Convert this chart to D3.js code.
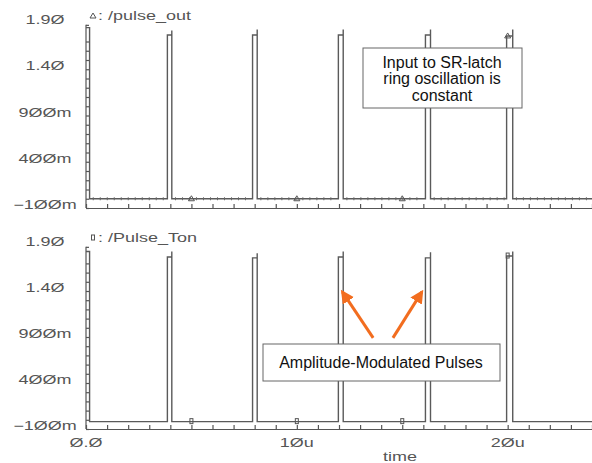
<!DOCTYPE html>
<html lang="en">

<head>
    <meta charset="UTF-8">
    <title>Pulse waveforms</title>
    <style>
        body {
            padding: 0px;
            margin: 0px;
            background-color: white;
        }

        .wide {
            font-family: "Liberation Sans", Arial, sans-serif;
            font-size: 12px;
            fill: #555;
        }

        .note {
            font-family: "Liberation Sans", Arial, sans-serif;
            font-size: 16px;
            fill: #111;
        }
    </style>
</head>

<body>
    <div id="svg"></div>

    <script src="https://cdn.jsdelivr.net/npm/d3@7"></script>
    <script>

        // data (time in us, volts)
        const riseTimes = [0.03, 3.86, 7.90, 11.97, 16.10, 19.95];
        const fallTimes = [0.17, 4.07, 8.12, 12.20, 16.34, 20.24];

        const outTop = [1.85, 1.77, 1.77, 1.77, 1.77, 1.76];
        const outSpike = [1.85, 1.82, 1.83, 1.83, 1.83, 1.83];
        const outLow = 0.0;

        const tonTop = [1.83, 1.77, 1.76, 1.77, 1.76, 1.78];
        const tonSpike = [1.83, 1.83, 1.81, 1.83, 1.82, 1.83];
        const tonLow = -0.02;

        const markerTimes = [5, 10, 15, 20];

        const yTickValues = [1.9, 1.4, 0.9, 0.4, -0.1];
        const yTickLabels = ["1.9Ø", "1.4Ø", "9ØØm", "4ØØm", "−1ØØm"];
        const xTickValues = [0, 10, 20];
        const xTickLabels = ["Ø.Ø", "1Øu", "2Øu"];

        // SVG square
        const w = 592;
        const h = 463;

        const svg = d3.select("#svg")
            .append("svg")
            .attr("width", w)
            .attr("height", h);

        const x = d3.scaleLinear().domain([0, 24]).range([86, 592]);

        const panels = [
            { name: "/pulse_out", symbol: "tri", top: outTop, spike: outSpike, low: outLow, ripple: true,
              y: d3.scaleLinear().domain([-0.1, 1.9]).range([208, 23]), legendY: 16 },
            { name: "/Pulse_Ton", symbol: "box", top: tonTop, spike: tonSpike, low: tonLow, ripple: false,
              y: d3.scaleLinear().domain([-0.1, 1.9]).range([429, 245]), legendY: 238 }
        ];

        // stretched text like the simulator's vector font
        function wideText(g, px, py, str, anchor) {
            return g.append("text")
                .attr("class", "wide")
                .attr("transform", `translate(${px}, ${py}) scale(1.5, 1)`)
                .attr("text-anchor", anchor)
                .attr("dy", "0.35em")
                .text(str);
        }

        function drawMarker(g, kind, px, py) {
            if (kind === "tri") {
                g.append("path")
                    .attr("d", `M${px - 3},${py + 2} L${px},${py - 3} L${px + 3},${py + 2} Z`)
                    .attr("fill", "none")
                    .attr("stroke", "#555")
                    .attr("stroke-width", 1);
            } else {
                g.append("rect")
                    .attr("x", px - 1.5)
                    .attr("y", py - 3)
                    .attr("width", 3)
                    .attr("height", 5)
                    .attr("fill", "none")
                    .attr("stroke", "#555")
                    .attr("stroke-width", 1);
            }
        }

        panels.forEach((p) => {
            const g = svg.append("g");
            const y = p.y;

            // waveform points
            const pts = [[0, p.top[0]]];
            riseTimes.forEach((r, i) => {
                if (i > 0) {
                    pts.push([r, p.low]);
                    pts.push([r, p.top[i]]);
                }
                pts.push([fallTimes[i], p.top[i]]);
                pts.push([fallTimes[i], p.spike[i]]);
                pts.push([fallTimes[i], p.low]);
            });
            pts.push([24, p.low]);

            // axes
            g.append("g")
                .attr("transform", `translate(${x(0)}, 0)`)
                .call(d3.axisRight(y)
                    .tickValues(d3.range(19).map((i) => -0.1 + i * 0.1).concat([1.88]))
                    .tickSize(3).tickSizeOuter(0).tickFormat(""))
                .call((a) => a.select(".domain").attr("d", `M0,${y(-0.1)}V${y(1.88)}`));

            g.append("g")
                .attr("transform", `translate(0, ${y(-0.1)})`)
                .call(d3.axisTop(x)
                    .tickValues(d3.range(0, 25, 1))
                    .tickSize(4).tickSizeOuter(0).tickFormat(""));

            g.selectAll(".domain, .tick line")
                .attr("stroke", "#555")
                .attr("stroke-width", 1.2);

            // y labels
            yTickValues.forEach((v, i) => wideText(g, 45, y(v) - 3, yTickLabels[i], "middle"));

            // waveform
            const line = d3.line().x((d) => x(d[0])).y((d) => y(d[1]));
            g.append("path")
                .datum(pts)
                .attr("d", line)
                .attr("fill", "none")
                .attr("stroke", "#5a5a5a")
                .attr("stroke-width", 1.4);

            // ringing on the low level
            if (p.ripple) {
                riseTimes.forEach((r, i) => {
                    const next = i + 1 < riseTimes.length ? riseTimes[i + 1] : 24;
                    g.append("path")
                        .datum([[fallTimes[i] + 0.15, p.low], [next - 0.1, p.low]])
                        .attr("d", line)
                        .attr("fill", "none")
                        .attr("stroke", "#666")
                        .attr("stroke-width", 3)
                        .attr("stroke-dasharray", "1,6");
                });
            }

            // markers on the trace
            markerTimes.forEach((t) => {
                const i = riseTimes.findIndex((r, k) => t >= r && t <= fallTimes[k]);
                const v = i >= 0 ? p.top[i] : p.low;
                drawMarker(g, p.symbol, x(t), y(v));
            });

            // legend
            drawMarker(g, p.symbol, 93, p.legendY);
            wideText(g, 98, p.legendY, ": " + p.name, "start");
        });

        // time axis labels
        xTickValues.forEach((v, i) => wideText(svg, x(v), 443, xTickLabels[i], "middle"));
        wideText(svg, 400, 457, "time", "middle");

        // annotation: top box
        svg.append("rect")
            .attr("x", 363).attr("y", 48)
            .attr("width", 159).attr("height", 60)
            .attr("fill", "white")
            .attr("stroke", "#666")
            .attr("stroke-width", 1);

        ["Input to SR-latch", "ring oscillation is", "constant"].forEach((s, i) => {
            svg.append("text")
                .attr("class", "note")
                .attr("x", 442)
                .attr("y", 62 + i * 16.8)
                .attr("dy", "0.35em")
                .attr("text-anchor", "middle")
                .text(s);
        });

        // annotation: arrows and bottom box
        const arrowColor = "#f26d1f";
        svg.append("defs").append("marker")
            .attr("id", "head")
            .attr("viewBox", "0 0 10 10")
            .attr("refX", 8).attr("refY", 5)
            .attr("markerWidth", 4.5).attr("markerHeight", 4.5)
            .attr("orient", "auto")
            .append("path")
            .attr("d", "M0,0 L10,5 L0,10 Z")
            .attr("fill", arrowColor);

        const yB = panels[1].y;
        [[13.62, 12.16], [14.56, 15.93]].forEach((a) => {
            svg.append("line")
                .attr("x1", x(a[0])).attr("y1", yB(0.89))
                .attr("x2", x(a[1])).attr("y2", yB(1.39))
                .attr("stroke", arrowColor)
                .attr("stroke-width", 3)
                .attr("marker-end", "url(#head)");
        });

        svg.append("rect")
            .attr("x", 263).attr("y", 344)
            .attr("width", 237).attr("height", 37)
            .attr("fill", "white")
            .attr("stroke", "#666")
            .attr("stroke-width", 1);

        svg.append("text")
            .attr("class", "note")
            .attr("x", 381)
            .attr("y", 362)
            .attr("dy", "0.35em")
            .attr("text-anchor", "middle")
            .text("Amplitude-Modulated Pulses");

    </script>
</body>

</html>
